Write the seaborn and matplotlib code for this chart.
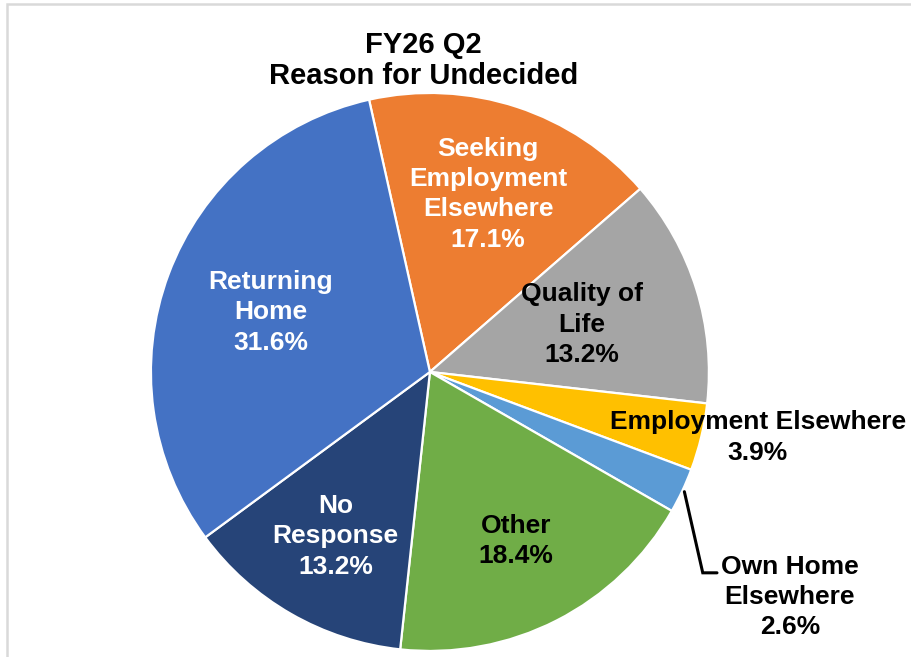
import matplotlib
matplotlib.use("Agg")
import matplotlib.pyplot as plt
import matplotlib.patches as mpatches
import numpy as np
import seaborn as sns

# slices, clockwise from just left of 12 o'clock
reasons = ["Seeking\nEmployment\nElsewhere", "Quality of\nLife",
           "Employment Elsewhere", "Own Home\nElsewhere", "Other",
           "No\nResponse", "Returning\nHome"]
shares = [17.1, 13.2, 3.9, 2.6, 18.4, 13.2, 31.6]
colors = ["#ED7D31", "#A5A5A5", "#FFC000", "#5B9BD5", "#70AD47",
          "#264478", "#4472C4"]
text_colors = ["white", "black", "black", "black", "black", "white", "white"]

title = "FY26 Q2\nReason for Undecided"


def main():
    sns.set_theme(style="white")
    plt.rcParams["font.family"] = ["Liberation Sans", "DejaVu Sans"]

    fig = plt.figure(figsize=(9.12, 6.57), dpi=100)
    ax = fig.add_axes([0, 0, 1, 1])
    wedges, _ = ax.pie(shares, colors=sns.color_palette(colors),
                       startangle=102.6, counterclock=False, radius=1.0,
                       wedgeprops=dict(edgecolor="white", linewidth=1.6))
    ax.set_xlim(-1.541, 1.728)
    ax.set_ylim(-1.0215, 1.333)
    ax.set_aspect("equal")
    ax.axis("off")

    fs = 19
    ls = 1.33
    # inside labels: radial fraction along each slice's mid angle
    inner_r = {0: 0.67, 1: 0.57, 4: 0.68, 5: 0.68, 6: 0.61}
    for i, w in enumerate(wedges):
        mid = np.deg2rad((w.theta1 + w.theta2) / 2)
        label = f"{reasons[i]}\n{shares[i]:.1f}%"
        if i in inner_r:
            r = inner_r[i]
            ax.text(r * np.cos(mid), r * np.sin(mid), label,
                    ha="center", va="center", fontsize=fs,
                    fontweight="bold", color=text_colors[i],
                    linespacing=ls)
        elif i == 2:
            ax.text(1.175, -0.235, label, ha="center", va="center",
                    fontsize=fs, fontweight="bold", color="black",
                    linespacing=ls)
        else:
            x0, y0 = 1.008 * np.cos(mid), 1.008 * np.sin(mid)
            ax.plot([x0, 0.978, 1.029], [y0, -0.72, -0.72],
                    color="black", lw=2.2, solid_joinstyle="miter")
            ax.text(1.29, -0.806, label, ha="center", va="center",
                    fontsize=fs, fontweight="bold", color="black",
                    linespacing=ls)

    fig.text(0.464, 0.908, title, ha="center", va="center", fontsize=21,
             fontweight="bold", color="black", linespacing=1.15)

    # light chart frame, cut at the right and bottom
    fig.patches.append(mpatches.Rectangle(
        (7 / 912, -0.05), 1.1, 1.05 - 4 / 657, transform=fig.transFigure,
        fill=False, edgecolor="#D9D9D9", linewidth=1.8))

    fig.savefig("out.png", dpi=100)
    plt.close(fig)


if __name__ == "__main__":
    main()
